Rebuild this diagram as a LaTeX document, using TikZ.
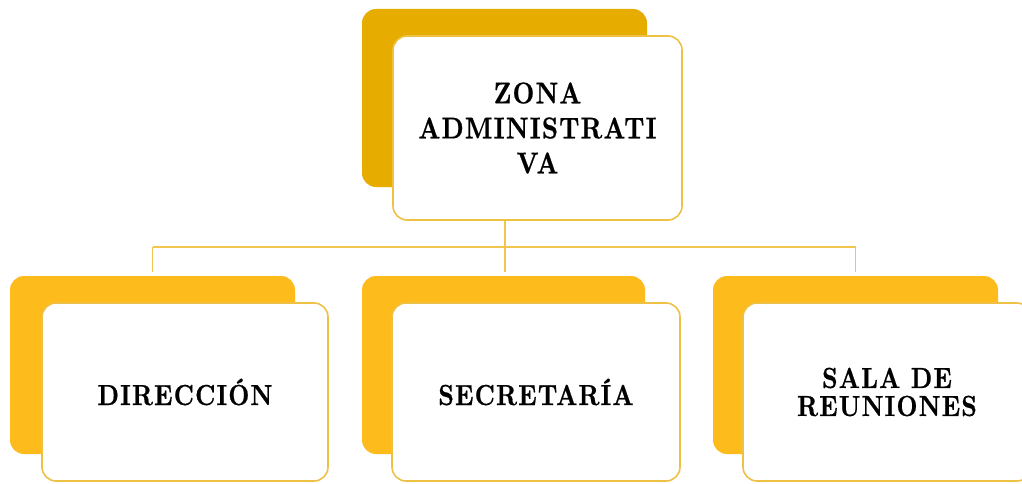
\documentclass[tikz,border=0pt]{standalone}
\usepackage{fontspec}
\newfontfamily\labfont{lmroman10-bold.otf}[FakeStretch=0.84,LetterSpace=4,FakeBold=0.6]
\definecolor{topgold}{HTML}{E6AC00}
\definecolor{subgold}{HTML}{FDBB1C}
\definecolor{edgegold}{HTML}{EEC043}
\definecolor{linkgold}{HTML}{F2C64E}
\begin{document}
\begin{tikzpicture}[x=1pt,y=1pt,
  backbox/.style={rectangle, rounded corners=14pt, draw=none, inner sep=0pt},
  frontbox/.style={rectangle, rounded corners=14pt, draw=edgegold, line width=1.6pt, fill=white, inner sep=0pt, align=center},
  toplabel/.style={font=\labfont\fontsize{30}{35}\selectfont},
  sublabel/.style={font=\labfont\fontsize{29}{28}\selectfont},
  link/.style={draw=linkgold, line width=1.4pt}]
\useasboundingbox (0,0) rectangle (1022,483);
% top
\node[backbox, fill=topgold, minimum width=285pt, minimum height=178pt] (tb) at (504.5,385) {};
\node[frontbox, minimum width=289pt, minimum height=184pt, toplabel] (tf) at (537.5,355) {ZONA\\ADMINISTRATI\\VA};
% bottom left
\node[backbox, fill=subgold, minimum width=285pt, minimum height=178pt] (lb) at (152.5,118) {};
\node[frontbox, minimum width=286pt, minimum height=178pt, sublabel] (lf) at (185,91) {DIRECCIÓN};
% bottom middle
\node[backbox, fill=subgold, minimum width=283pt, minimum height=178pt] (mb) at (503.5,118) {};
\node[frontbox, minimum width=288pt, minimum height=178pt, sublabel] (mf) at (536,91) {SECRETARÍA};
% bottom right
\node[backbox, fill=subgold, minimum width=285pt, minimum height=178pt] (rb) at (855.5,118) {};
\node[frontbox, minimum width=288pt, minimum height=178pt, sublabel] (rf) at (887,91) {SALA DE\\REUNIONES};
% connectors
\coordinate (hub) at (505,236);
\coordinate (jl) at (152.5,236);
\coordinate (jr) at (855.5,236);
\draw[link] (tf.south -| hub) -- (hub);
\draw[link] (jl) -- (jr);
\draw[link] (jl) -- ([yshift=4pt]lb.north);
\draw[link] (hub) -- ([yshift=4pt]mb.north -| hub);
\draw[link] (jr) -- ([yshift=4pt]rb.north);
\end{tikzpicture}
\end{document}
